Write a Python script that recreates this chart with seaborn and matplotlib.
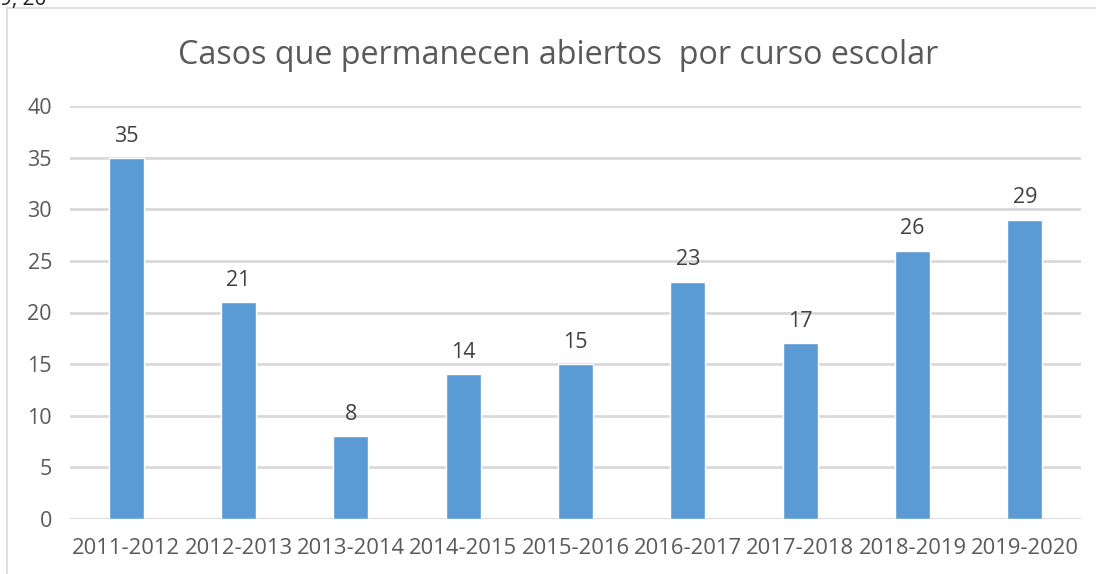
import matplotlib
matplotlib.use("Agg")
import matplotlib.pyplot as plt
import seaborn as sns
import pandas as pd
from matplotlib.patches import Rectangle

# datos
cursos = ["2011-2012", "2012-2013", "2013-2014", "2014-2015", "2015-2016",
          "2016-2017", "2017-2018", "2018-2019", "2019-2020"]
casos = [35, 21, 8, 14, 15, 23, 17, 26, 29]
yticks = [0, 5, 10, 15, 20, 25, 30, 35, 40]

df = pd.DataFrame({"curso": cursos, "casos": casos})

sns.set_theme(style="white")
plt.rcParams["font.family"] = ["Open Sans", "DejaVu Sans"]
gris_txt = "#595959"
gris_lin = "#D9D9D9"

W, H = 1096, 574
fig = plt.figure(figsize=(W / 100, H / 100), dpi=100)
ax = fig.add_axes([70 / W, (H - 519) / H, (1081 - 70) / W, (519 - 106) / H])

# marco del área de gráfico
fig.patches.append(Rectangle((7 / W, -0.1), 2, (H - 8) / H + 0.1, transform=fig.transFigure,
                             fill=False, edgecolor=gris_lin, linewidth=1.2))
fig.text(0.0, 1 - 5 / H, "9, 20", fontsize=15, color="#222222", va="baseline", ha="left")

sns.barplot(data=df, x="curso", y="casos", color="#5B9BD5", saturation=1,
            width=0.31, ax=ax, zorder=3)

ax.set_ylim(0, 40)
ax.set_xlim(-0.5, len(cursos) - 0.5)
ax.set_yticks(yticks)
ax.yaxis.grid(True, color=gris_lin, linewidth=2)
ax.set_axisbelow(True)
for s in ax.spines.values():
    s.set_visible(False)
ax.tick_params(axis="y", length=0, pad=13, labelsize=15.5, labelcolor=gris_txt)
ax.tick_params(axis="x", length=0, pad=14, labelsize=15.8, labelcolor=gris_txt)
ax.set_xlabel("")
ax.set_ylabel("")

ax.bar_label(ax.containers[0], padding=8, fontsize=15.5, color="#404040")

fig.text((178 + 938) / 2 / W, 1 - 55 / H, "Casos que permanecen abiertos  por curso escolar",
         ha="center", va="center", fontsize=23.2, color=gris_txt)

fig.savefig("out.png", dpi=100)
